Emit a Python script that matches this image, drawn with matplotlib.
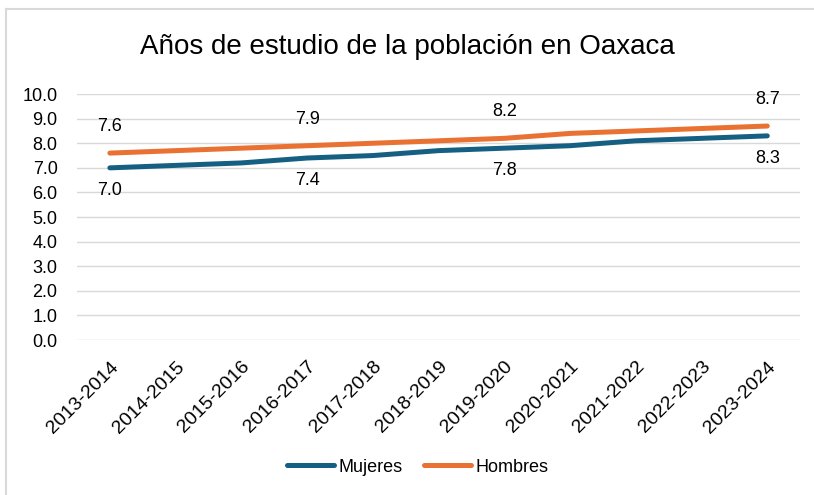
import matplotlib
matplotlib.use("Agg")
import matplotlib.pyplot as plt
from matplotlib.lines import Line2D

plt.rcParams['font.family'] = ['Liberation Sans', 'DejaVu Sans']

periodos = ["2013-2014", "2014-2015", "2015-2016", "2016-2017", "2017-2018",
            "2018-2019", "2019-2020", "2020-2021", "2021-2022", "2022-2023", "2023-2024"]
mujeres = [7.0, 7.1, 7.2, 7.4, 7.5, 7.7, 7.8, 7.9, 8.1, 8.2, 8.3]
hombres = [7.6, 7.7, 7.8, 7.9, 8.0, 8.1, 8.2, 8.4, 8.5, 8.6, 8.7]
etiquetas_idx = [0, 3, 6, 10]
yticks = [0, 1, 2, 3, 4, 5, 6, 7, 8, 9, 10]

c_muj = "#156082"
c_hom = "#E97132"

fig = plt.figure(figsize=(8.14, 4.95), dpi=100)
ax = fig.add_axes([0.0946, 0.313, 0.983 - 0.0946, 0.810 - 0.313])

x = list(range(len(periodos)))
ax.plot(x, mujeres, color=c_muj, lw=3.6, solid_capstyle='round', label="Mujeres", zorder=3)
ax.plot(x, hombres, color=c_hom, lw=3.6, solid_capstyle='round', label="Hombres", zorder=3)

for i in etiquetas_idx:
    ax.annotate(f"{mujeres[i]:.1f}", (x[i], mujeres[i]), xytext=(0, -16),
                textcoords='offset points', ha='center', va='center', fontsize=13)
    ax.annotate(f"{hombres[i]:.1f}", (x[i], hombres[i]), xytext=(0, 19),
                textcoords='offset points', ha='center', va='center', fontsize=13)

ax.set_xlim(-0.5, len(periodos) - 0.5)
ax.set_ylim(0, 10)
ax.set_yticks(yticks)
ax.set_yticklabels([f"{v:.1f}" for v in yticks], fontsize=13)
ax.set_xticks(x)
ax.set_xticklabels(periodos, rotation=45, ha='right', rotation_mode='anchor', fontsize=14)
ax.tick_params(length=0)
ax.tick_params(axis='y', pad=14)
ax.tick_params(axis='x', pad=13)
ax.grid(axis='y', color='#D9D9D9', lw=1)
ax.set_axisbelow(True)
for s in ax.spines.values():
    s.set_visible(False)

fig.text(0.5, 1 - 47 / 495, "Años de estudio de la población en Oaxaca",
         ha='center', va='center', fontsize=20)

fig.legend(loc='center', bbox_to_anchor=(0.513, 1 - 467 / 495), ncol=2, frameon=False,
           fontsize=13, handlelength=2.6, handletextpad=0.25, columnspacing=1.2)

fig.add_artist(Line2D([6 / 814, 6 / 814], [0, 1 - 9 / 495], color='#D9D9D9', lw=1.5))
fig.add_artist(Line2D([6 / 814, 1], [1 - 9 / 495, 1 - 9 / 495], color='#D9D9D9', lw=1.5))

fig.savefig("out.png", dpi=100)
